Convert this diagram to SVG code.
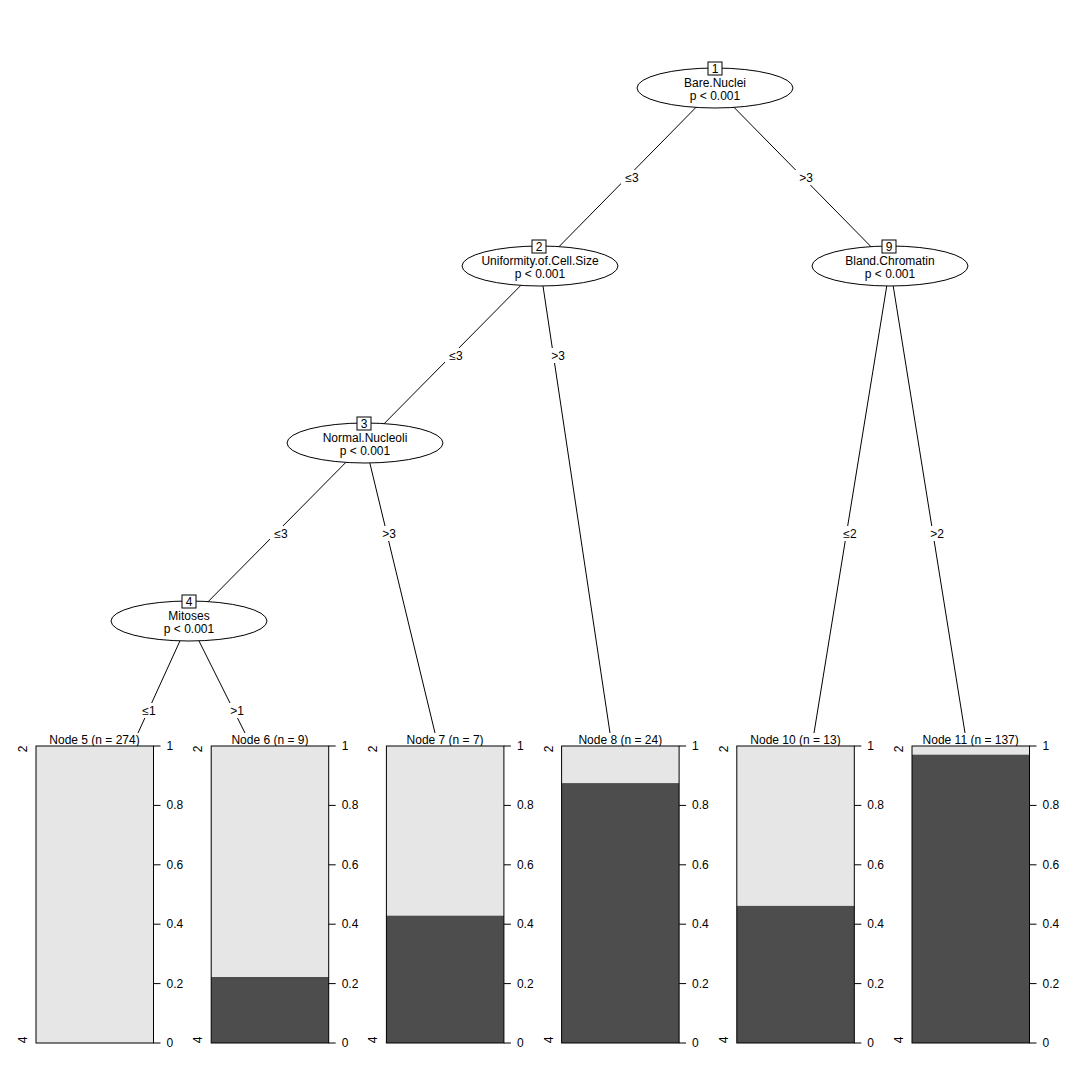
<svg xmlns="http://www.w3.org/2000/svg" width="1080" height="1080" viewBox="0 0 1080 1080">
  <style>
    text { font-family: "Liberation Sans", Arial, sans-serif; font-size: 12px; fill: #000; }
    .mid { text-anchor: middle; }
    .start { text-anchor: start; }
    .edge { stroke: #000; stroke-width: 1; fill: none; }
    .lblbg { fill: #fff; stroke: none; }
    .ell { fill: #fff; stroke: #000; stroke-width: 1; }
    .idbox { fill: #fff; stroke: #000; stroke-width: 1; }
    .frame { fill: none; stroke: #000; stroke-width: 1; }
    .light { fill: #e6e6e6; }
    .dark { fill: #4d4d4d; }
    .tick { stroke: #000; stroke-width: 1; }
  </style>
  <rect width="1080" height="1080" fill="#fff"/>

  <!-- connectors -->
  <g id="connectors">
    <line class="edge" x1="715" y1="88" x2="540" y2="266"/>
    <line class="edge" x1="715" y1="88" x2="890" y2="266"/>
    <line class="edge" x1="540" y1="266" x2="365" y2="443"/>
    <line class="edge" x1="540" y1="266" x2="610" y2="733"/>
    <line class="edge" x1="365" y1="443" x2="189" y2="621"/>
    <line class="edge" x1="365" y1="443" x2="435" y2="733"/>
    <line class="edge" x1="890" y1="266" x2="814" y2="733"/>
    <line class="edge" x1="890" y1="266" x2="965" y2="733"/>
    <line class="edge" x1="189" y1="621" x2="138" y2="733"/>
    <line class="edge" x1="189" y1="621" x2="245" y2="733"/>

    <!-- split labels -->
    <rect class="lblbg" x="621" y="170" width="21" height="15"/>
    <text class="mid" x="632" y="182">≤3</text>
    <rect class="lblbg" x="795" y="170" width="21" height="15"/>
    <text class="mid" x="806" y="182">&gt;3</text>
    <rect class="lblbg" x="445" y="348" width="21" height="15"/>
    <text class="mid" x="456" y="360">≤3</text>
    <rect class="lblbg" x="547" y="348" width="21" height="15"/>
    <text class="mid" x="558" y="360">&gt;3</text>
    <rect class="lblbg" x="270" y="526" width="21" height="15"/>
    <text class="mid" x="281" y="538">≤3</text>
    <rect class="lblbg" x="378" y="526" width="21" height="15"/>
    <text class="mid" x="389" y="538">&gt;3</text>
    <rect class="lblbg" x="839" y="526" width="21" height="15"/>
    <text class="mid" x="850" y="538">≤2</text>
    <rect class="lblbg" x="926" y="526" width="21" height="15"/>
    <text class="mid" x="937" y="538">&gt;2</text>
    <rect class="lblbg" x="138" y="703" width="21" height="15"/>
    <text class="mid" x="149" y="715">≤1</text>
    <rect class="lblbg" x="226" y="703" width="21" height="15"/>
    <text class="mid" x="237" y="715">&gt;1</text>
  </g>

  <!-- inner nodes -->
  <g id="node1">
    <ellipse class="ell" cx="715" cy="88" rx="78" ry="20"/>
    <rect class="idbox" x="708" y="62" width="14" height="13"/>
    <text class="mid" x="715" y="73">1</text>
    <text class="mid" x="715" y="87">Bare.Nuclei</text>
    <text class="mid" x="715" y="100">p &lt; 0.001</text>
  </g>
  <g id="node2">
    <ellipse class="ell" cx="540" cy="266" rx="78" ry="20"/>
    <rect class="idbox" x="532" y="240" width="14" height="13"/>
    <text class="mid" x="539" y="251">2</text>
    <text class="mid" x="540" y="265">Uniformity.of.Cell.Size</text>
    <text class="mid" x="540" y="278">p &lt; 0.001</text>
  </g>
  <g id="node3">
    <ellipse class="ell" cx="365" cy="443" rx="78" ry="20"/>
    <rect class="idbox" x="357" y="417" width="14" height="13"/>
    <text class="mid" x="364" y="428">3</text>
    <text class="mid" x="365" y="442">Normal.Nucleoli</text>
    <text class="mid" x="365" y="455">p &lt; 0.001</text>
  </g>
  <g id="node4">
    <ellipse class="ell" cx="189" cy="621" rx="78" ry="20"/>
    <rect class="idbox" x="182" y="595" width="14" height="13"/>
    <text class="mid" x="189" y="606">4</text>
    <text class="mid" x="189" y="620">Mitoses</text>
    <text class="mid" x="189" y="633">p &lt; 0.001</text>
  </g>
  <g id="node9">
    <ellipse class="ell" cx="890" cy="266" rx="78" ry="20"/>
    <rect class="idbox" x="882" y="240" width="14" height="13"/>
    <text class="mid" x="889" y="251">9</text>
    <text class="mid" x="890" y="265">Bland.Chromatin</text>
    <text class="mid" x="890" y="278">p &lt; 0.001</text>
  </g>

  <!-- shared right-hand axis for the terminal bar panels -->
  <defs>
    <g id="axis">
      <line class="tick" x1="0" y1="746" x2="7" y2="746"/>
      <line class="tick" x1="0" y1="805.4" x2="7" y2="805.4"/>
      <line class="tick" x1="0" y1="864.8" x2="7" y2="864.8"/>
      <line class="tick" x1="0" y1="924.2" x2="7" y2="924.2"/>
      <line class="tick" x1="0" y1="983.6" x2="7" y2="983.6"/>
      <line class="tick" x1="0" y1="1043" x2="7" y2="1043"/>
      <text class="start" x="13" y="750">1</text>
      <text class="start" x="13" y="809.4">0.8</text>
      <text class="start" x="13" y="868.8">0.6</text>
      <text class="start" x="13" y="928.2">0.4</text>
      <text class="start" x="13" y="987.6">0.2</text>
      <text class="start" x="13" y="1047">0</text>
    </g>
  </defs>

  <!-- terminal nodes -->
  <g id="node5">
    <text class="mid" x="94.5" y="744">Node 5 (n = 274)</text>
    <rect class="light" x="36" y="746" width="117.5" height="297"/>
    <rect class="frame" x="36" y="746" width="117.5" height="297"/>
    <text class="mid" transform="rotate(-90 27 749)" x="27" y="749">2</text>
    <text class="mid" transform="rotate(-90 27 1040)" x="27" y="1040">4</text>
    <use href="#axis" x="153.5"/>
  </g>
  <g id="node6">
    <text class="mid" x="269.9" y="744">Node 6 (n = 9)</text>
    <rect class="light" x="211.2" y="746" width="117.5" height="297"/>
    <rect class="dark" x="211.2" y="977" width="117.5" height="66"/>
    <rect class="frame" x="211.2" y="746" width="117.5" height="297"/>
    <text class="mid" transform="rotate(-90 202.2 749)" x="202.2" y="749">2</text>
    <text class="mid" transform="rotate(-90 202.2 1040)" x="202.2" y="1040">4</text>
    <use href="#axis" x="328.7"/>
  </g>
  <g id="node7">
    <text class="mid" x="445.1" y="744">Node 7 (n = 7)</text>
    <rect class="light" x="386.4" y="746" width="117.5" height="297"/>
    <rect class="dark" x="386.4" y="915.7" width="117.5" height="127.3"/>
    <rect class="frame" x="386.4" y="746" width="117.5" height="297"/>
    <text class="mid" transform="rotate(-90 377.4 749)" x="377.4" y="749">2</text>
    <text class="mid" transform="rotate(-90 377.4 1040)" x="377.4" y="1040">4</text>
    <use href="#axis" x="503.9"/>
  </g>
  <g id="node8">
    <text class="mid" x="620.3" y="744">Node 8 (n = 24)</text>
    <rect class="light" x="561.6" y="746" width="117.5" height="297"/>
    <rect class="dark" x="561.6" y="783.1" width="117.5" height="259.9"/>
    <rect class="frame" x="561.6" y="746" width="117.5" height="297"/>
    <text class="mid" transform="rotate(-90 552.6 749)" x="552.6" y="749">2</text>
    <text class="mid" transform="rotate(-90 552.6 1040)" x="552.6" y="1040">4</text>
    <use href="#axis" x="679.1"/>
  </g>
  <g id="node10">
    <text class="mid" x="795.5" y="744">Node 10 (n = 13)</text>
    <rect class="light" x="736.8" y="746" width="117.5" height="297"/>
    <rect class="dark" x="736.8" y="905.9" width="117.5" height="137.1"/>
    <rect class="frame" x="736.8" y="746" width="117.5" height="297"/>
    <text class="mid" transform="rotate(-90 727.8 749)" x="727.8" y="749">2</text>
    <text class="mid" transform="rotate(-90 727.8 1040)" x="727.8" y="1040">4</text>
    <use href="#axis" x="854.3"/>
  </g>
  <g id="node11">
    <text class="mid" x="970.7" y="744">Node 11 (n = 137)</text>
    <rect class="light" x="912" y="746" width="117.5" height="297"/>
    <rect class="dark" x="912" y="754.7" width="117.5" height="288.3"/>
    <rect class="frame" x="912" y="746" width="117.5" height="297"/>
    <text class="mid" transform="rotate(-90 903 749)" x="903" y="749">2</text>
    <text class="mid" transform="rotate(-90 903 1040)" x="903" y="1040">4</text>
    <use href="#axis" x="1029.5"/>
  </g>
</svg>
